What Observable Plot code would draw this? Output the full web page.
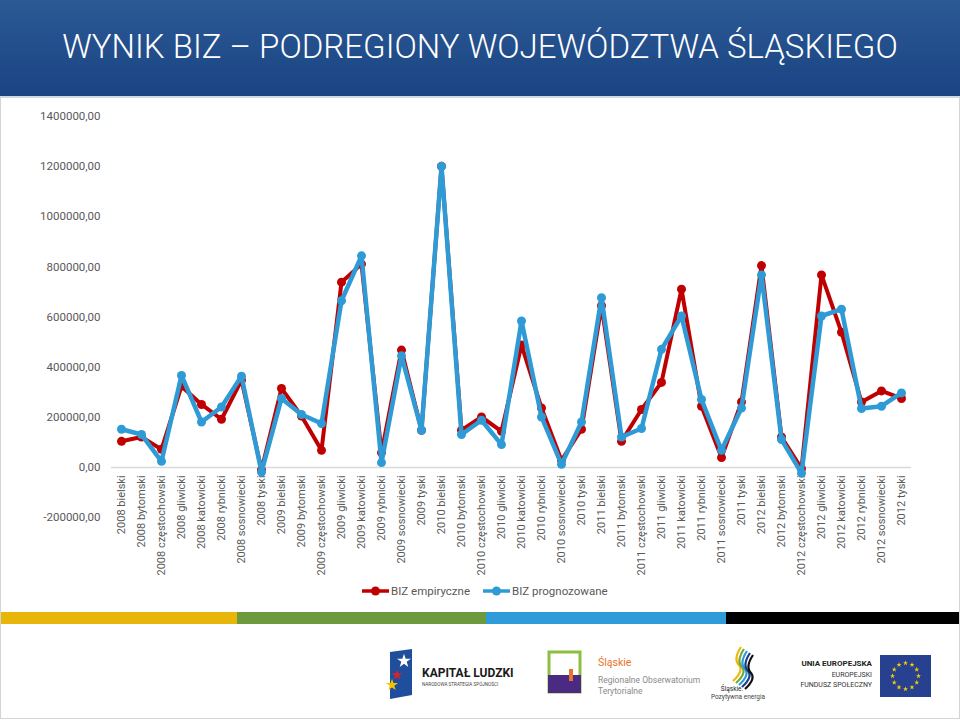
<!DOCTYPE html>
<html><head><meta charset="utf-8">
<script src="https://cdn.jsdelivr.net/npm/d3@7"></script>
<script src="https://cdn.jsdelivr.net/npm/@observablehq/plot@0.6"></script>
<style>
body{margin:0;width:960px;height:720px;overflow:hidden;background:#fff;position:relative;font-family:Roboto,"Open Sans",sans-serif}
#header{position:absolute;left:0;top:0;width:960px;height:96px;background:linear-gradient(#2b5a94,#1a4383);border-bottom:2px solid #cfd8e3}
#title{position:absolute;left:0;top:0;width:960px;text-align:center;line-height:94px;color:#fff;font-size:33px;font-family:Roboto,sans-serif;font-weight:300;letter-spacing:0px}
#chart{position:absolute;left:0;top:99px}
#legend{position:absolute;top:582px;left:0;width:960px;height:18px;font-size:11.5px;color:#595959}
#strip{position:absolute;top:612px;left:0;width:960px;height:12px;display:flex}
#logos{position:absolute;top:625px;left:0}
#frame{position:absolute;left:0;top:98px;width:958px;height:620px;border:1px solid #d4d4d4;border-top:none;pointer-events:none}
</style></head>
<body>
<div id="header"><div id="title">WYNIK BIZ – PODREGIONY WOJEWÓDZTWA ŚLĄSKIEGO</div></div>
<div id="chart"></div>
<div id="legend"></div>
<div id="strip"><div style="width:237px;background:#e8b60a"></div><div style="width:249px;background:#6c9a3c"></div><div style="width:240px;background:#2f9bd8"></div><div style="width:234px;background:#000"></div></div>
<svg id="logos" width="960" height="95"></svg>
<div id="frame"></div>
<script>
const years = ["2008", "2009", "2010", "2011", "2012"];
const regions = ["bielski", "bytomski", "częstochowski", "gliwicki", "katowicki", "rybnicki", "sosnowiecki", "tyski"];
const categories = years.flatMap(y => regions.map(r => y + " " + r));
const bizEmpiryczne = [
  104000, 121000, 72000, 324000, 251000, 192000, 348000, -10000,
  315000, 205000, 68000, 739000, 811000, 59000, 468000, 148000,
  1201000, 148000, 201000, 144000, 488000, 237000, 28000, 152000,
  645000, 104000, 231000, 339000, 711000, 244000, 39000, 261000,
  805000, 121000, -5000, 768000, 539000, 261000, 305000, 275000
];
const bizPrognozowane = [
  152000, 131000, 24000, 367000, 181000, 241000, 364000, -19000,
  275000, 211000, 175000, 665000, 844000, 19000, 445000, 148000,
  1201000, 131000, 188000, 91000, 584000, 201000, 12000, 181000,
  677000, 121000, 155000, 471000, 604000, 271000, 68000, 237000,
  768000, 111000, -23000, 604000, 631000, 235000, 244000, 297000
];
const yTicks = [-200000, 0, 200000, 400000, 600000, 800000, 1000000, 1200000, 1400000];
const seriesNames = ["BIZ empiryczne", "BIZ prognozowane"];
const seriesColors = ["#c00000", "#2f9bd6"];

const rows = categories.map((c, i) => ({cat: c, emp: bizEmpiryczne[i], prog: bizPrognozowane[i]}));

const chart = Plot.plot({
  width: 960,
  height: 482,
  marginLeft: 111,
  marginRight: 49,
  marginTop: 17,
  marginBottom: 64,
  style: {fontFamily: "Roboto, sans-serif", background: "transparent", overflow: "visible"},
  x: {type: "point", domain: categories, padding: 0.5, axis: null},
  y: {domain: [-200000, 1400000], axis: null},
  marks: [
    Plot.axisY({ticks: yTicks, tickFormat: d => d + ",00", tickSize: 0, tickPadding: 11, fontSize: 11.5, color: "#595959", label: null}),
    Plot.ruleY([0], {stroke: "#d9d9d9", strokeWidth: 1.5}),
    Plot.text(categories, {x: d => d, y: 0, rotate: -90, textAnchor: "end", dy: 8, fontSize: 11, fill: "#595959"}),
    Plot.line(rows, {x: "cat", y: "emp", stroke: seriesColors[0], strokeWidth: 4}),
    Plot.dot(rows, {x: "cat", y: "emp", r: 4.5, fill: seriesColors[0]}),
    Plot.line(rows, {x: "cat", y: "prog", stroke: seriesColors[1], strokeWidth: 4.5}),
    Plot.dot(rows, {x: "cat", y: "prog", r: 4.5, fill: seriesColors[1]})
  ]
});
document.getElementById("chart").appendChild(chart);

// legend
const leg = d3.select("#legend").append("svg").attr("width", 960).attr("height", 18);
const legX = [362, 483];
seriesNames.forEach((n, i) => {
  const g = leg.append("g").attr("transform", `translate(${legX[i]},9)`);
  g.append("line").attr("x1", 0).attr("x2", 27).attr("stroke", seriesColors[i]).attr("stroke-width", 3.5);
  g.append("circle").attr("cx", 13.5).attr("r", 4.5).attr("fill", seriesColors[i]);
  g.append("text").attr("x", 29).attr("dy", "0.35em").attr("fill", "#595959").style("font-size", "11.5px").text(n);
});

// logos (decorative)
const L = d3.select("#logos");
const star = d3.symbol(d3.symbolStar);
// Kapitał Ludzki
L.append("polygon").attr("points", "390,27 412,24 412,70 390,74").attr("fill", "#1f4e9c");
L.append("path").attr("d", star.size(60)()).attr("transform", "translate(404,36)").attr("fill", "#fff");
L.append("path").attr("d", star.size(35)()).attr("transform", "translate(397,50)").attr("fill", "#d8232a");
L.append("path").attr("d", star.size(45)()).attr("transform", "translate(392,60)").attr("fill", "#f4c400");
L.append("text").attr("x", 422).attr("y", 52).attr("fill", "#1a1a1a").style("font-size", "12px").style("font-weight", "700").text("KAPITAŁ LUDZKI");
L.append("text").attr("x", 422).attr("y", 61).attr("fill", "#444").style("font-size", "4.6px").text("NARODOWA STRATEGIA SPÓJNOŚCI");
// Regionalne Obserwatorium Terytorialne
L.append("rect").attr("x", 549).attr("y", 27).attr("width", 31).attr("height", 40).attr("fill", "none").attr("stroke", "#8cbf3f").attr("stroke-width", 3);
L.append("rect").attr("x", 548).attr("y", 50).attr("width", 33).attr("height", 18).attr("fill", "#4b2a84");
L.append("rect").attr("x", 569).attr("y", 44).attr("width", 4).attr("height", 12).attr("fill", "#e8742a");
L.append("text").attr("x", 598).attr("y", 41).attr("fill", "#e8742a").style("font-size", "10.5px").text("Śląskie");
L.append("text").attr("x", 598).attr("y", 58).attr("fill", "#8a8a8a").style("font-size", "8.5px").text("Regionalne Obserwatorium");
L.append("text").attr("x", 598).attr("y", 69).attr("fill", "#8a8a8a").style("font-size", "8.5px").text("Terytorialne");
// Śląskie. Pozytywna energia
const wc = ["#f2b705", "#6cab3c", "#2f9bd8", "#1a3e8c", "#111"];
wc.forEach((c, i) => L.append("path").attr("d", `M${741 + i * 3},${22 + i * 2} q-8,12 -2,18 q5,6 -6,16`).attr("fill", "none").attr("stroke", c).attr("stroke-width", 2.2));
L.append("text").attr("x", 732).attr("y", 66).attr("text-anchor", "middle").attr("fill", "#222").style("font-size", "6.5px").text("Śląskie.");
L.append("text").attr("x", 738).attr("y", 74).attr("text-anchor", "middle").attr("fill", "#444").style("font-size", "6.5px").text("Pozytywna energia");
// Unia Europejska
L.append("text").attr("x", 872).attr("y", 41).attr("text-anchor", "end").attr("fill", "#222").style("font-size", "8px").style("font-weight", "700").text("UNIA EUROPEJSKA");
L.append("text").attr("x", 872).attr("y", 52).attr("text-anchor", "end").attr("fill", "#333").style("font-size", "7px").text("EUROPEJSKI");
L.append("text").attr("x", 872).attr("y", 62).attr("text-anchor", "end").attr("fill", "#333").style("font-size", "7px").text("FUNDUSZ SPOŁECZNY");
L.append("rect").attr("x", 880).attr("y", 30).attr("width", 51).attr("height", 42).attr("fill", "#27408f");
for (let k = 0; k < 12; k++) {
  const a = k * Math.PI / 6;
  L.append("path").attr("d", star.size(8)()).attr("transform", `translate(${905.5 + 13 * Math.cos(a)},${51 + 13 * Math.sin(a)})`).attr("fill", "#f5d000");
}
</script>
</body></html>
